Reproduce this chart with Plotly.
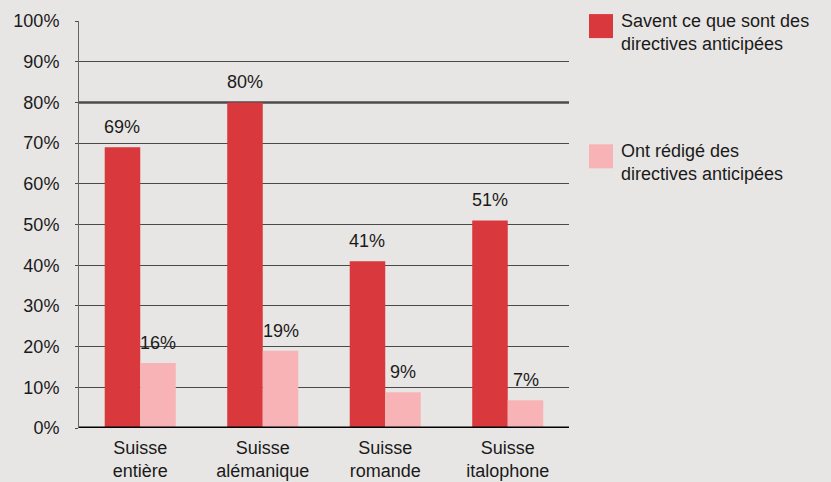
import plotly.graph_objects as go

categories = ["Suisse<br>entière", "Suisse<br>alémanique", "Suisse<br>romande", "Suisse<br>italophone"]
series_names = ["Savent ce que sont des<br>directives anticipées", "Ont rédigé des<br>directives anticipées"]
know_values = [69, 80, 41, 51]
written_values = [16, 19, 8.8, 6.8]
know_labels = ["69%", "80%", "41%", "51%"]
written_labels = ["16%", "19%", "9%", "7%"]
tick_vals = [0, 10, 20, 30, 40, 50, 60, 70, 80, 90, 100]
tick_text = ["0%", "10%", "20%", "30%", "40%", "50%", "60%", "70%", "80%", "90%", "100%"]

RED = "#D9383C"
PINK = "#F8B3B6"
BG = "#E8E6E4"
FONT = "Liberation Sans, Arial, sans-serif"
FS = 18

fig = go.Figure()
fig.add_trace(go.Bar(x=categories, y=know_values, name=series_names[0], marker_color=RED,
                     marker_line_width=0, showlegend=False, hoverinfo="skip"))
fig.add_trace(go.Bar(x=categories, y=written_values, name=series_names[1], marker_color=PINK,
                     marker_line_width=0, showlegend=False, hoverinfo="skip"))

# value labels
for cat, v, lab in zip(categories, know_values, know_labels):
    fig.add_annotation(x=cat, y=v, text=lab, showarrow=False, xshift=-18, yshift=8,
                       yanchor="bottom", font=dict(size=FS, color="#1a1a1a", family=FONT))
for cat, v, lab in zip(categories, written_values, written_labels):
    fig.add_annotation(x=cat, y=v, text=lab, showarrow=False, xshift=18, yshift=8,
                       yanchor="bottom", font=dict(size=FS, color="#1a1a1a", family=FONT))

# emphasised 80% line and baseline
fig.add_shape(type="line", xref="paper", yref="y", x0=0, x1=1, y0=80, y1=80,
              line=dict(color="#000000", width=2), layer="between")
fig.add_shape(type="line", xref="paper", yref="y", x0=0, x1=1, y0=0, y1=0,
              line=dict(color="#000000", width=3), layer="above")

# custom legend
legend_items = [(series_names[0], RED, 1.0), (series_names[1], PINK, 0.68)]
for name, col, ytop in legend_items:
    fig.add_shape(type="rect", xref="paper", yref="paper",
                  x0=1.0408, x1=1.0898, y0=ytop + 0.017, y1=ytop + 0.017 - 0.059,
                  fillcolor=col, line_width=0)
    fig.add_annotation(xref="paper", yref="paper", x=1.102, y=ytop + 0.03, text=name,
                       showarrow=False, xanchor="left", yanchor="top", align="left",
                       font=dict(size=FS, color="#1a1a1a", family=FONT))

fig.update_layout(
    width=831, height=482,
    paper_bgcolor=BG, plot_bgcolor=BG,
    margin=dict(l=79, r=262, t=21, b=54),
    barmode="group", bargap=0.42, bargroupgap=0,
    font=dict(family=FONT, size=FS, color="#1a1a1a"),
    hovermode=False,
    xaxis=dict(showgrid=False, showline=False, ticks="", tickfont=dict(size=FS),
               ticklabelstandoff=7, automargin=False),
    yaxis=dict(range=[0, 100], tickvals=tick_vals, ticktext=tick_text,
               showgrid=True, gridcolor="#4a4a4a", gridwidth=1,
               showline=True, linecolor="#666666", linewidth=1,
               ticks="outside", ticklen=3, tickcolor="#4a4a4a",
               zeroline=False, tickfont=dict(size=FS), ticklabelstandoff=12,
               automargin=False),
)

fig.write_html("out.html", config={"displayModeBar": False},
               post_script="document.body.style.margin='0';document.body.style.padding='0';")
